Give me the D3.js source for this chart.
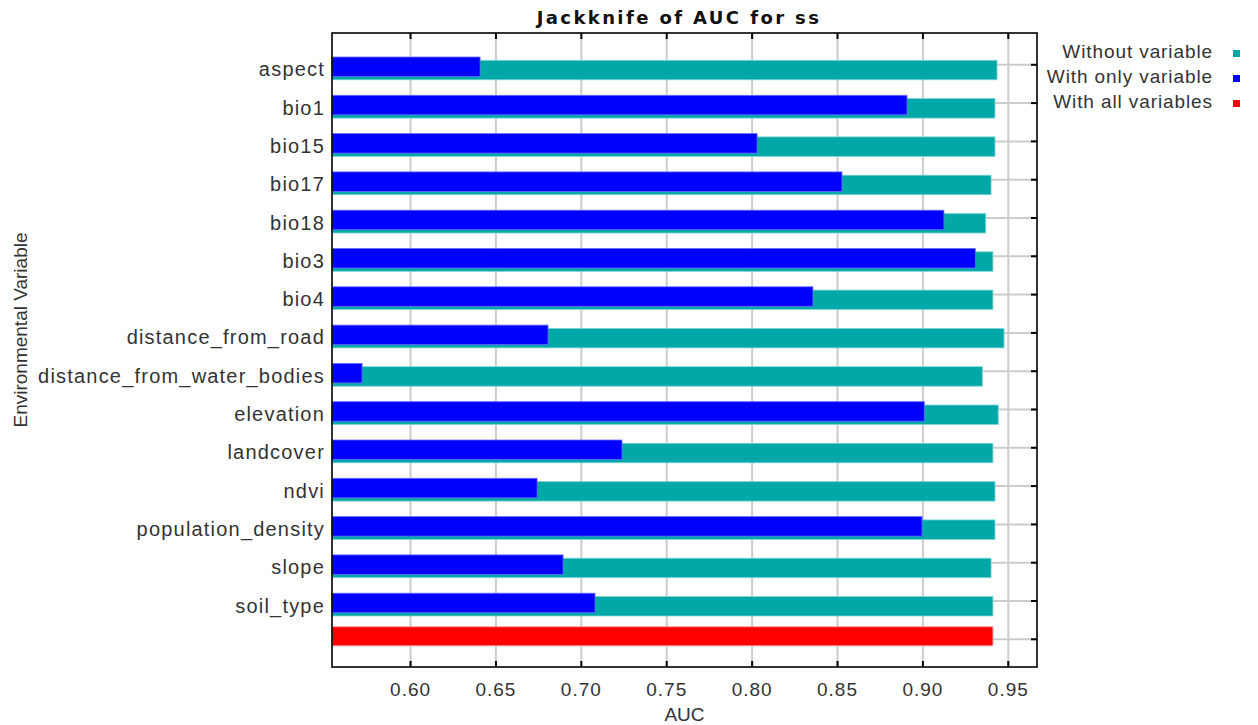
<!DOCTYPE html>
<html>
<head>
<meta charset="utf-8">
<script src="https://cdn.jsdelivr.net/npm/d3@7"></script>
<style>
  body { margin: 0; background: #fff; }
  text { font-family: "Liberation Sans", Arial, sans-serif; }
</style>
</head>
<body>
<div id="chart"></div>
<script>
// svg container
var width = 1258;
var height = 725;

// plot frame
var margin = { top: 33, right: 221, bottom: 58, left: 332 };
var chartWidth = width - margin.left - margin.right;
var chartHeight = height - margin.top - margin.bottom;

// data
var variables = ['aspect', 'bio1', 'bio15', 'bio17', 'bio18', 'bio3', 'bio4',
    'distance_from_road', 'distance_from_water_bodies', 'elevation', 'landcover',
    'ndvi', 'population_density', 'slope', 'soil_type'];
var withoutVariable = [0.9437, 0.9425, 0.9425, 0.9402, 0.9371, 0.9413, 0.9413,
    0.9478, 0.9351, 0.9444, 0.9413, 0.9425, 0.9425, 0.9402, 0.9413];
var withOnlyVariable = [0.6410, 0.8910, 0.8032, 0.8529, 0.9126, 0.9310, 0.8359,
    0.6808, 0.5719, 0.9011, 0.7241, 0.6744, 0.8998, 0.6896, 0.7083];
var withAllVariables = 0.9413;
var xTicks = [0.60, 0.65, 0.70, 0.75, 0.80, 0.85, 0.90, 0.95];
var legendLabels = ['Without variable', 'With only variable', 'With all variables'];
var colors = ['#00a8a8', '#0000ff', '#ff0000'];

var svg = d3.select('#chart').append('svg')
    .attr('width', width)
    .attr('height', height);

var chartGroup = svg.append('g')
    .attr('transform', `translate(${margin.left}, ${margin.top})`);

var xScale = d3.scaleLinear()
    .domain([0.5543, 0.9671])
    .range([0, chartWidth]);

// one slot per variable plus the "all variables" bar
var slots = variables.concat(['__all__']);
var yScale = d3.scalePoint()
    .domain(slots)
    .range([31.3, 605.8]);

// vertical gridlines
chartGroup.append('g')
    .call(d3.axisBottom(xScale).tickValues(xTicks).tickSize(chartHeight).tickFormat(''))
    .call(g => g.select('.domain').remove())
    .selectAll('line')
    .attr('stroke', '#cccccc')
    .attr('stroke-width', 2);

// horizontal gridlines
chartGroup.append('g')
    .call(d3.axisRight(yScale).tickSize(chartWidth).tickFormat(''))
    .call(g => g.select('.domain').remove())
    .selectAll('line')
    .attr('stroke', '#cccccc')
    .attr('stroke-width', 2);

// without variable bars (teal)
chartGroup.selectAll('.without')
    .data(variables)
    .enter()
    .append('rect')
    .attr('class', 'without')
    .attr('x', 0)
    .attr('y', d => yScale(d) - 4)
    .attr('width', (d, i) => xScale(withoutVariable[i]))
    .attr('height', 19.5)
    .attr('fill', colors[0])
    .attr('stroke', '#7fd6d6')
    .attr('stroke-width', 0.8);

// with only variable bars (blue)
chartGroup.selectAll('.only')
    .data(variables)
    .enter()
    .append('rect')
    .attr('class', 'only')
    .attr('x', 0)
    .attr('y', d => yScale(d) - 7.3)
    .attr('width', (d, i) => xScale(withOnlyVariable[i]))
    .attr('height', 19.5)
    .attr('fill', colors[1])
    .attr('stroke', '#6a6aff')
    .attr('stroke-width', 0.8);

// with all variables bar (red)
chartGroup.append('rect')
    .attr('x', 0)
    .attr('y', yScale('__all__') - 12)
    .attr('width', xScale(withAllVariables))
    .attr('height', 19)
    .attr('fill', colors[2])
    .attr('stroke', '#ff9a9a')
    .attr('stroke-width', 0.8);

// tick marks inside the frame
var tickLen = 6;
chartGroup.append('g')
    .attr('transform', `translate(0, ${chartHeight})`)
    .call(d3.axisBottom(xScale).tickValues(xTicks).tickSize(-tickLen).tickPadding(16)
        .tickFormat(d3.format('.2f')))
    .call(g => g.select('.domain').remove())
    .call(g => g.selectAll('line').attr('stroke', '#000').attr('stroke-width', 2))
    .call(g => g.selectAll('text')
        .attr('fill', '#333')
        .style('font-size', '19px')
        .style('letter-spacing', '1px'));

chartGroup.append('g')
    .call(d3.axisTop(xScale).tickValues(xTicks).tickSize(-tickLen).tickFormat(''))
    .call(g => g.select('.domain').remove())
    .selectAll('line').attr('stroke', '#000').attr('stroke-width', 2);

chartGroup.append('g')
    .attr('transform', `translate(${chartWidth}, 0)`)
    .call(d3.axisRight(yScale).tickSize(-tickLen).tickFormat(''))
    .call(g => g.select('.domain').remove())
    .selectAll('line').attr('stroke', '#000').attr('stroke-width', 2);

// category labels
chartGroup.selectAll('.cat')
    .data(variables)
    .enter()
    .append('text')
    .attr('class', 'cat')
    .attr('x', -7)
    .attr('y', d => yScale(d) + 12)
    .attr('text-anchor', 'end')
    .attr('fill', '#333')
    .style('font-size', '20px')
    .style('letter-spacing', '1.2px')
    .text(d => d);

// frame
chartGroup.append('rect')
    .attr('width', chartWidth)
    .attr('height', chartHeight)
    .attr('fill', 'none')
    .attr('stroke', '#000')
    .attr('stroke-width', 1.6);

// title
svg.append('text')
    .attr('x', 679)
    .attr('y', 24)
    .attr('text-anchor', 'middle')
    .attr('fill', '#111')
    .style('font-family', '"DejaVu Sans", sans-serif')
    .style('font-weight', 'bold')
    .style('font-size', '18px')
    .style('letter-spacing', '2.4px')
    .text('Jackknife of AUC for ss');

// axis titles
svg.append('text')
    .attr('x', margin.left + chartWidth / 2)
    .attr('y', 721)
    .attr('text-anchor', 'middle')
    .attr('fill', '#333')
    .style('font-size', '19px')
    .text('AUC');

svg.append('text')
    .attr('transform', 'rotate(-90)')
    .attr('x', -330)
    .attr('y', 27)
    .attr('text-anchor', 'middle')
    .attr('fill', '#333')
    .style('font-size', '19px')
    .text('Environmental Variable');

// legend
var legend = svg.append('g')
    .attr('transform', 'translate(1213, 0)');

legend.selectAll('text')
    .data(legendLabels)
    .enter()
    .append('text')
    .attr('x', 0)
    .attr('y', (d, i) => 58 + i * 25)
    .attr('text-anchor', 'end')
    .attr('fill', '#333')
    .style('font-size', '19px')
    .style('letter-spacing', '0.9px')
    .text(d => d);

legend.selectAll('rect')
    .data(legendLabels)
    .enter()
    .append('rect')
    .attr('x', 20)
    .attr('y', (d, i) => 50 + i * 25)
    .attr('width', 7)
    .attr('height', 7)
    .attr('fill', (d, i) => colors[i]);
</script>
</body>
</html>
